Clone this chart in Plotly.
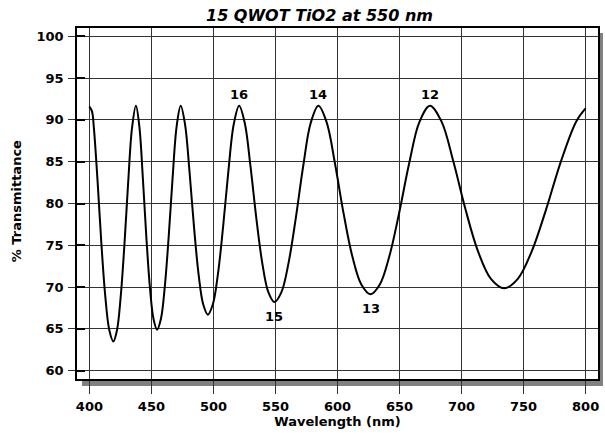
import plotly.graph_objects as go

# ---- data ----
wavelength = [
    400.0, 402.09, 403.60, 406.64, 409.73, 412.87, 416.06, 419.3,
    422.23, 425.19, 428.21, 431.26, 434.36, 437.5,
    440.26, 443.05, 445.89, 448.75, 451.66, 454.6,
    457.66, 460.76, 463.91, 467.09, 470.32, 473.6,
    477.11, 480.68, 484.30, 487.98, 491.71, 495.5,
    499.53, 503.63, 507.79, 512.02, 516.32, 520.7,
    525.24, 529.87, 534.57, 539.36, 544.23, 549.2,
    554.80, 560.51, 566.35, 572.30, 578.39, 584.6,
    591.21, 597.96, 604.87, 611.94, 619.19, 626.6,
    634.11, 641.79, 649.66, 657.74, 666.01, 674.5,
    683.80, 693.35, 703.18, 713.28, 723.69, 734.4,
    745.32, 756.57, 768.17, 780.13, 792.46, 800.0,
]
transmittance = [
    91.6, 91.02, 89.05, 82.54, 75.04, 68.79, 64.84, 63.5,
    64.84, 68.79, 75.04, 82.54, 89.05, 91.7,
    89.23, 83.12, 76.01, 70.02, 66.20, 64.9,
    66.20, 70.02, 76.01, 83.12, 89.23, 91.7,
    89.45, 83.84, 77.23, 71.58, 67.94, 66.7,
    67.94, 71.58, 77.23, 83.84, 89.45, 91.7,
    89.63, 84.43, 78.22, 72.87, 69.39, 68.2,
    69.39, 72.87, 78.22, 84.43, 89.63, 91.7,
    89.74, 84.79, 78.84, 73.68, 70.31, 69.15,
    70.31, 73.68, 78.84, 84.79, 89.74, 91.7,
    89.82, 85.05, 79.30, 74.27, 70.98, 69.85,
    70.98, 74.27, 79.30, 85.05, 89.82, 91.38,
]

# order labels at extrema
order_labels = ["16", "14", "12", "15", "13"]
order_x = [520.7, 584.6, 674.5, 549.2, 626.6]
order_y = [91.7, 91.7, 91.7, 68.2, 69.15]
order_above = [True, True, True, False, False]

x_ticks = [400, 450, 500, 550, 600, 650, 700, 750, 800]
x_ticklabels = [str(v) for v in x_ticks]
y_ticks = [60, 65, 70, 75, 80, 85, 90, 95, 100]
y_ticklabels = [str(v) for v in y_ticks]

title_text = "15 QWOT TiO2 at 550 nm"
x_title = "Wavelength (nm)"
y_title = "% Transmittance"

# ---- layout constants ----
W, H = 605, 435
ML, MR, MT, MB = 77, 5, 28, 56
PW = W - ML - MR
PH = H - MT - MB
GRID = "#333333"
BOLD13 = dict(family="DejaVu Sans", size=13, color="black", weight="bold")

fig = go.Figure()
fig.add_trace(go.Scatter(
    x=wavelength, y=transmittance, mode="lines",
    line=dict(color="black", width=2, shape="spline", smoothing=1.0),
    hoverinfo="skip", showlegend=False,
))
# invisible helper trace so the inner-tick overlay axis is drawn
fig.add_trace(go.Scatter(
    x=[wavelength[0]], y=[transmittance[0]], yaxis="y2", mode="markers",
    marker=dict(opacity=0), hoverinfo="skip", showlegend=False,
))

for lab, xv, yv, above in zip(order_labels, order_x, order_y, order_above):
    fig.add_annotation(
        x=xv, y=yv, text=lab, showarrow=False,
        xanchor="center", yanchor="middle",
        yshift=11 if above else -14,
        font=BOLD13,
    )

# y-axis title as annotation for precise placement
fig.add_annotation(
    xref="paper", yref="paper",
    x=(17 - ML) / PW, y=(H - MB - 201) / PH,
    text=y_title, textangle=-90, showarrow=False,
    xanchor="center", yanchor="middle",
    font=BOLD13,
)

# drop shadow (bottom strip and right strip) in paper coordinates
sx = 5 / PW
sy = 7 / PH
fig.add_shape(type="rect", xref="paper", yref="paper", layer="below",
              x0=sx, x1=1 + sx, y0=-sy, y1=0,
              line=dict(width=0), fillcolor="#808080")
fig.add_shape(type="rect", xref="paper", yref="paper", layer="below",
              x0=1, x1=1 + sx, y0=-sy, y1=1 - 5 / PH,
              line=dict(width=0), fillcolor="#808080")

fig.update_layout(
    width=W, height=H,
    margin=dict(l=ML, r=MR, t=MT, b=MB, pad=0),
    paper_bgcolor="white", plot_bgcolor="white",
    showlegend=False,
    title=dict(
        text=title_text, x=319.5 / W, xref="container", xanchor="center",
        y=1 - 15 / H, yref="container", yanchor="middle",
        font=dict(family="DejaVu Sans", size=16, color="black",
                  weight="bold", style="italic"),
    ),
    xaxis=dict(
        range=[390, 810], tickmode="array", tickvals=x_ticks, ticktext=x_ticklabels,
        showgrid=True, gridcolor=GRID, gridwidth=1,
        ticks="outside", ticklen=13, tickwidth=1, tickcolor=GRID,
        showline=True, linecolor="black", linewidth=1.5, mirror=True,
        zeroline=False, tickfont=BOLD13, ticklabelstandoff=2,
        title=dict(text=x_title, standoff=4, font=BOLD13),
    ),
    yaxis=dict(
        range=[59, 101], tickmode="array", tickvals=y_ticks, ticktext=y_ticklabels,
        showgrid=True, gridcolor=GRID, gridwidth=1,
        ticks="outside", ticklen=7, tickwidth=1, tickcolor=GRID,
        showline=True, linecolor="black", linewidth=1.5, mirror=True,
        zeroline=False, tickfont=BOLD13, ticklabelstandoff=2,
    ),
    yaxis2=dict(
        overlaying="y", side="left", range=[59, 101],
        tickmode="array", tickvals=y_ticks,
        ticks="inside", ticklen=8, tickwidth=2, tickcolor="black",
        showticklabels=False, showgrid=False, showline=False, zeroline=False,
    ),
)

fig.write_html("out.html")
